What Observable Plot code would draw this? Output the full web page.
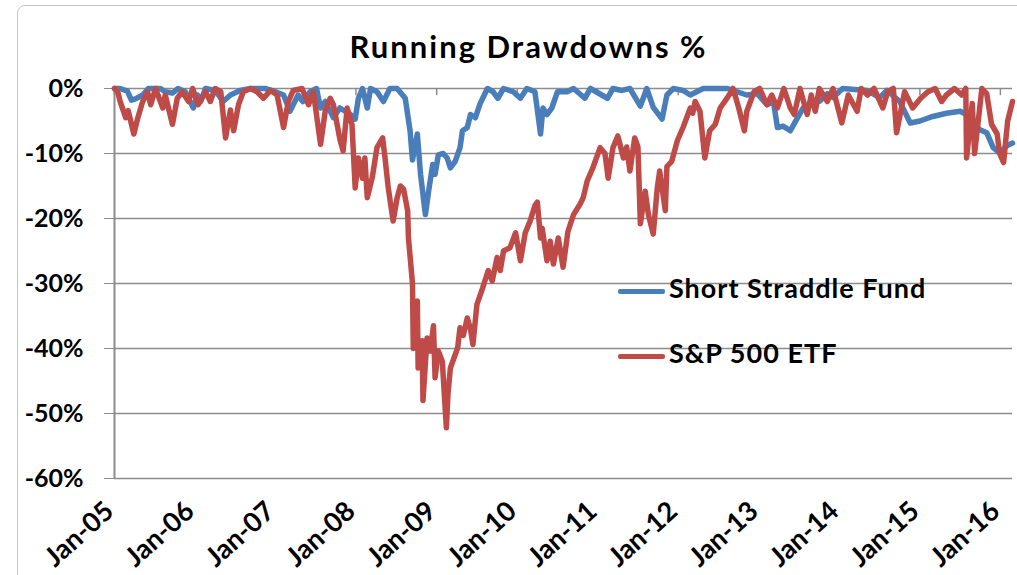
<!DOCTYPE html>
<html><head><meta charset="utf-8">
<script src="https://cdn.jsdelivr.net/npm/d3@7"></script>
<script src="https://cdn.jsdelivr.net/npm/@observablehq/plot@0.6"></script>
<style>
body{margin:0;width:1017px;height:575px;overflow:hidden;background:#fff;font-family:Lato,"Open Sans",sans-serif;}
#wrap{position:relative;width:1017px;height:575px;overflow:hidden;}
#frame{position:absolute;left:17px;top:5px;width:1100px;height:700px;border:1px solid #c6c6c6;border-radius:8px;}
#title{position:absolute;left:17px;width:1023px;top:28px;text-align:center;font-weight:bold;font-size:31px;letter-spacing:2px;color:#000;line-height:36px;}
#chart{position:absolute;left:0;top:70px;}
.leg{position:absolute;left:618px;font-weight:bold;font-size:27px;letter-spacing:1px;color:#000;white-space:nowrap;line-height:30px;}
.leg span.sw{display:inline-block;width:47px;height:5px;vertical-align:middle;margin-right:4px;border-radius:2px;}
</style></head>
<body><div id="wrap"><div id="frame"></div><div id="title">Running Drawdowns %</div><div id="chart"></div>
<div class="leg" id="leg1"></div><div class="leg" id="leg2"></div></div>
<script>
// ---- data (decimal years, drawdown %) ----
const seriesNames = ["Short Straddle Fund", "S&P 500 ETF"];
const seriesColors = ["#4A7EBB", "#BE4B48"];
const yTicks = [0, -10, -20, -30, -40, -50, -60];
const xTickYears = [2005, 2006, 2007, 2008, 2009, 2010, 2011, 2012, 2013, 2014, 2015, 2016];

const fundYears = [2005.00,2005.07,2005.16,2005.21,2005.26,2005.35,2005.42,2005.57,2005.63,2005.72,2005.79,2005.88,2005.98,2006.03,2006.07,2006.13,2006.25,2006.35,2006.44,2006.56,2006.69,2006.87,2007.00,2007.10,2007.18,2007.22,2007.28,2007.34,2007.43,2007.51,2007.56,2007.62,2007.72,2007.80,2007.93,2007.99,2008.03,2008.08,2008.14,2008.18,2008.26,2008.34,2008.42,2008.51,2008.61,2008.67,2008.70,2008.76,2008.80,2008.86,2008.90,2008.95,2008.98,2009.02,2009.08,2009.13,2009.17,2009.23,2009.29,2009.32,2009.38,2009.42,2009.48,2009.54,2009.63,2009.70,2009.76,2009.83,2009.95,2010.04,2010.12,2010.22,2010.29,2010.32,2010.37,2010.43,2010.50,2010.62,2010.70,2010.84,2010.91,2011.12,2011.19,2011.30,2011.40,2011.53,2011.61,2011.69,2011.80,2011.86,2011.94,2012.06,2012.15,2012.31,2012.48,2012.61,2012.85,2012.98,2013.10,2013.18,2013.23,2013.30,2013.39,2013.47,2013.55,2013.60,2013.76,2013.85,2013.92,2014.04,2014.34,2014.50,2014.59,2014.75,2014.88,2015.00,2015.16,2015.33,2015.50,2015.58,2015.74,2015.83,2015.91,2015.99,2016.08,2016.15];
const fundValues = [0,0,-0.4,-1.8,-1.6,-1,0,0,-0.5,-0.7,0,-0.5,-3,-1,-2,0,-0.3,-2,-1,-0.3,0,0,-0.5,-1,-3.5,-2.5,-1,-2,-0.5,0,-3,-2,-4.5,-3,-4,-4.7,-1.5,0,-3,0,-0.5,-2,0,0,-1.5,-6.5,-11,-7,-13.2,-19.4,-15.8,-11.7,-13.2,-10.2,-10,-10.7,-12.2,-11.2,-9.1,-6.5,-6,-4,-4.5,-2.3,0,-0.5,-1.5,0,-0.5,-1.5,0,-0.5,-7,-3,-4,-3,-0.5,-0.5,0,-1.5,0,-1.5,0,-0.3,0,-2.7,0,-2.9,-4.7,-1,0,-0.3,-1,0,0,0,-1,-0.8,-2.5,-2,-6,-5.8,-6.5,-4.7,-3,-2.7,-1.9,-0.8,-1.4,0,-0.3,-1.4,-0.3,-2,-5.3,-5,-4.3,-3.8,-3.5,-4,-6.3,-6.8,-9.1,-9.9,-8.8,-8.4];

const spyYears = [2005.00,2005.04,2005.07,2005.14,2005.17,2005.24,2005.29,2005.35,2005.41,2005.45,2005.51,2005.60,2005.63,2005.72,2005.78,2005.84,2005.92,2005.97,2006.04,2006.13,2006.19,2006.25,2006.32,2006.38,2006.44,2006.48,2006.54,2006.60,2006.69,2006.77,2006.85,2006.94,2007.02,2007.10,2007.16,2007.22,2007.33,2007.41,2007.47,2007.56,2007.62,2007.68,2007.72,2007.80,2007.84,2007.89,2007.95,2007.99,2008.03,2008.08,2008.11,2008.14,2008.20,2008.26,2008.33,2008.36,2008.40,2008.46,2008.51,2008.55,2008.59,2008.64,2008.65,2008.70,2008.71,2008.76,2008.77,2008.82,2008.83,2008.88,2008.92,2008.96,2008.98,2009.02,2009.07,2009.12,2009.14,2009.17,2009.26,2009.29,2009.33,2009.38,2009.42,2009.45,2009.50,2009.57,2009.64,2009.69,2009.75,2009.79,2009.83,2009.91,2009.98,2010.04,2010.10,2010.16,2010.22,2010.25,2010.29,2010.31,2010.37,2010.41,2010.45,2010.51,2010.57,2010.63,2010.70,2010.78,2010.82,2010.87,2010.94,2011.03,2011.09,2011.13,2011.19,2011.25,2011.32,2011.36,2011.40,2011.46,2011.50,2011.53,2011.59,2011.63,2011.69,2011.74,2011.77,2011.84,2011.86,2011.92,2011.99,2012.06,2012.15,2012.18,2012.21,2012.27,2012.33,2012.39,2012.46,2012.52,2012.61,2012.68,2012.75,2012.82,2012.85,2012.94,2013.01,2013.10,2013.16,2013.23,2013.31,2013.39,2013.44,2013.51,2013.60,2013.65,2013.70,2013.75,2013.85,2013.92,2014.03,2014.11,2014.22,2014.27,2014.35,2014.43,2014.54,2014.60,2014.67,2014.71,2014.81,2014.91,2015.01,2015.10,2015.19,2015.27,2015.33,2015.43,2015.52,2015.57,2015.58,2015.65,2015.68,2015.77,2015.83,2015.89,2015.96,2015.99,2016.04,2016.09,2016.15];
const spyValues = [0,-0.5,-2,-4.5,-3.4,-7,-4.5,-2,-0.5,-2.5,0,-3,-1,-5.5,-1.5,-0.5,-2,0,-2.5,-0.5,-2,0,-0.5,-7.6,-3.3,-6.5,-2.5,-0.5,0,-0.5,-1.5,-0.3,-1,-6,-2,-0.3,0,-2.5,-0.5,-8.6,-3.3,-1.5,-2.5,-7.8,-9.6,-3,-5.5,-15.3,-10.7,-13.8,-10.7,-16.8,-13.8,-9.1,-7.6,-10.7,-15.3,-20.4,-16.8,-15,-15.5,-18.8,-23,-30,-40,-32.7,-43,-38.8,-48,-38.4,-40.4,-36.5,-44.5,-40.4,-42,-52.2,-47,-43,-39.9,-36.8,-38,-35.3,-37,-39.4,-33.2,-30.7,-28,-29.6,-26,-28,-25,-24.5,-22.2,-26.5,-22.2,-20.4,-18,-17.5,-23,-21.5,-26.5,-23.5,-27,-23,-27.5,-22,-19.4,-17.8,-16.8,-14.2,-12.2,-9.1,-10,-13.8,-9.1,-7.3,-10.7,-9,-12.7,-7.6,-9,-20.8,-15.8,-19.4,-22.4,-15.3,-12.7,-18.8,-12,-11.2,-8,-6,-3,-3.8,-2,-3.5,-10.7,-6.5,-5.5,-3,-1.4,0,-3,-6.5,-3.5,-0.5,0,-2.5,-1,-3,0,-3,-4,0,-4,-1,-3.5,0,-2,0,-5.3,-1,-3.5,0,-1,0,-3,-0.5,0,-6.8,-0.5,-3,-1.5,-0.5,0,-2,-1,0,-1,0,-10.7,-2.3,-10,0,-0.8,-5.5,-7,-10,-11.4,-5,-2];

// ---- helpers ----
function yearToDate(t){const y=Math.floor(t+1e-9);const s=Date.UTC(y,0,1),e=Date.UTC(y+1,0,1);return new Date(s+(t-y)*(e-s));}
const fund = fundYears.map((t,i)=>({date:yearToDate(t), v:fundValues[i]}));
const spy = spyYears.map((t,i)=>({date:yearToDate(t), v:spyValues[i]}));
const xTicks = xTickYears.map(yearToDate);
const xDomain = [yearToDate(fundYears[0]), yearToDate(fundYears[fundYears.length-1])];
const fmt = d3.utcFormat("%b-%y");
const grid = "#8c8c8c";
const yFont = {fontSize:25, fontWeight:"bold", fontFamily:"Lato"};
const xFont = {fontSize:27, fontWeight:"bold", fontFamily:"Lato"};

const chart = Plot.plot({
  width:1017, height:505,
  marginTop:18, marginLeft:114, marginRight:5, marginBottom:97,
  style:{color:"#000", background:"transparent", overflow:"visible"},
  x:{type:"utc", domain:xDomain, axis:null},
  y:{domain:[-60,0], label:null},
  marks:[
    Plot.ruleY(yTicks, {stroke:grid, strokeWidth:1.5}),
    Plot.ruleX([xDomain[0]], {stroke:grid, strokeWidth:2}),
    Plot.ruleX(xTicks, {x:d=>d, y1:0, y2:-1.1, stroke:grid, strokeWidth:1.5}),
    Plot.axisY({ticks:yTicks, label:null, tickFormat:d=>d+"%", tickSize:10, tickPadding:21, stroke:grid, fill:"#000", ...yFont}),
    Plot.text(xTicks, {x:d=>d, frameAnchor:"bottom", dx:1, dy:35, rotate:-42, textAnchor:"end", text:d=>fmt(d), fill:"#000", ...xFont}),
    Plot.line(fund, {x:"date", y:"v", stroke:seriesColors[0], strokeWidth:5.5, strokeLinejoin:"round", strokeLinecap:"round"}),
    Plot.line(spy, {x:"date", y:"v", stroke:seriesColors[1], strokeWidth:5.5, strokeLinejoin:"round", strokeLinecap:"round"})
  ]
});
document.getElementById("chart").appendChild(chart);

const legTops = [273, 338];
["leg1","leg2"].forEach((id,i)=>{
  const el=document.getElementById(id);
  el.style.top=legTops[i]+"px";
  const sw=document.createElement("span"); sw.className="sw"; sw.style.background=seriesColors[i];
  el.appendChild(sw); el.appendChild(document.createTextNode(seriesNames[i]));
});
</script></body></html>
